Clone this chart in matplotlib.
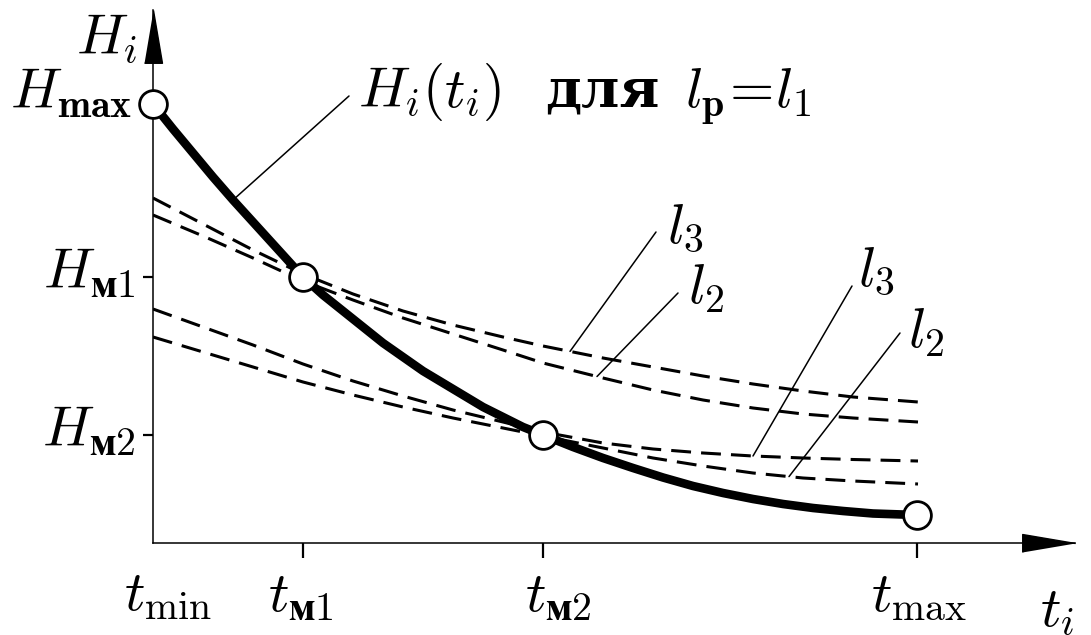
import numpy as np
import matplotlib.pyplot as plt

plt.rcParams['mathtext.fontset'] = 'cm'
plt.rcParams['font.family'] = ['Liberation Serif', 'DejaVu Serif']

# key points of the H_i(t_i) curve
t_min, t_m1, t_m2, t_max = 0.0, 1.5, 3.9, 7.64
H_max, H_m1, H_m2, H_end = 4.39, 2.66, 1.08, 0.28

# main curve  H_i(t_i) for l_p = l_1
t_main = [0, 0.2, 0.4, 0.6, 0.8, 1.0, 1.2, 1.4, 1.5,
          1.7, 1.9, 2.1, 2.3, 2.5, 2.7, 2.9, 3.1, 3.3, 3.5, 3.7, 3.9,
          4.2, 4.5, 4.8, 5.1, 5.4, 5.7, 6.0, 6.3, 6.6, 6.9, 7.2, 7.64]
H_main = [4.39, 4.14, 3.90, 3.66, 3.43, 3.21, 2.99, 2.77, 2.66,
          2.48, 2.32, 2.16, 2.00, 1.86, 1.72, 1.60, 1.48, 1.36, 1.26, 1.16, 1.08,
          0.96, 0.85, 0.75, 0.655, 0.57, 0.50, 0.44, 0.39, 0.35, 0.32, 0.295, 0.28]

# dashed curves for l_3 and l_2
t_dash = [0, 0.5, 1.0, 1.5, 2.0, 2.5, 3.0, 3.5, 3.9, 4.5, 5.0, 5.5, 6.0, 6.5, 7.0, 7.65]
l3_upper = [3.45, 3.19, 2.93, 2.69, 2.49, 2.32, 2.18, 2.06, 1.97, 1.85, 1.76, 1.67, 1.59, 1.52, 1.46, 1.41]
l2_upper = [3.28, 3.07, 2.85, 2.62, 2.43, 2.25, 2.09, 1.93, 1.80, 1.65, 1.53, 1.43, 1.35, 1.29, 1.25, 1.21]
l3_lower = [2.34, 2.16, 1.98, 1.79, 1.62, 1.47, 1.33, 1.21, 1.11, 1.00, 0.94, 0.90, 0.87, 0.85, 0.835, 0.82]
l2_lower = [2.06, 1.91, 1.76, 1.61, 1.48, 1.36, 1.25, 1.15, 1.07, 0.95, 0.85, 0.77, 0.70, 0.65, 0.62, 0.59]

fig = plt.figure(figsize=(10.91, 6.35), dpi=100)
ax = fig.add_axes([153 / 1091, 92 / 635, 922 / 1091, 533 / 635])
ax.set_xlim(0, 9.22)
ax.set_ylim(0, 5.33)
for s in ['top', 'right']:
    ax.spines[s].set_visible(False)
for s in ['left', 'bottom']:
    ax.spines[s].set_linewidth(1.1)

# axis arrows
x_head = [(0, 0), (-53, 9), (-53, -9)]
y_head = [(0, 0), (9, -53), (-9, -53)]
ax.plot(1, 0, marker=x_head, ms=76, color='k', transform=ax.transAxes, clip_on=False)
ax.plot(0, 1, marker=y_head, ms=76, color='k', transform=ax.transAxes, clip_on=False)

ax.set_xticks([t_m1, t_m2, t_max])
ax.set_yticks([H_m1, H_m2])
ax.set_xticklabels([])
ax.set_yticklabels([])
ax.tick_params(axis='x', length=11, width=1.6)
ax.tick_params(axis='y', length=7, width=1.6)

# dotted guides
dot = dict(color='k', lw=1.8, dashes=(0, 4.2), dash_capstyle='round', zorder=1)
ax.plot([t_min, t_m1], [H_m1, H_m1], **dot)
ax.plot([t_m1, t_m1], [0, H_m1], **dot)
ax.plot([t_min, t_m2], [H_m2, H_m2], **dot)
ax.plot([t_m2, t_m2], [0, H_m2], **dot)

# dashed curves
for ys in [l3_upper, l2_upper, l3_lower, l2_lower]:
    ax.plot(t_dash, ys, color='k', lw=2.2, dashes=(6.5, 3.3), zorder=2)

# main curve
ax.plot(t_main, H_main, color='k', lw=6.2, solid_capstyle='butt',
        solid_joinstyle='round', zorder=3)
ax.plot([t_min, t_m1, t_m2, t_max], [H_max, H_m1, H_m2, H_end], 'o', ms=20,
        mfc='white', mec='k', mew=2, zorder=5, clip_on=False)

# leader lines
lead = dict(arrowstyle='-', lw=1.1, color='k', shrinkA=0, shrinkB=0)
ax.annotate('', xy=(0.8, np.interp(0.8, t_main, H_main)), xytext=(1.96, 4.47), arrowprops=lead)
ax.annotate('', xy=(4.17, np.interp(4.17, t_dash, l3_upper)), xytext=(5.03, 3.11), arrowprops=lead)
ax.annotate('', xy=(4.44, np.interp(4.44, t_dash, l2_upper)), xytext=(5.25, 2.50), arrowprops=lead)
ax.annotate('', xy=(6.0, np.interp(6.0, t_dash, l3_lower)), xytext=(6.99, 2.57), arrowprops=lead)
ax.annotate('', xy=(6.36, np.interp(6.36, t_dash, l2_lower)), xytext=(7.47, 2.10), arrowprops=lead)

fs = 41
txt = dict(fontsize=fs, va='baseline', clip_on=False)
ax.text(2.05, 4.36, r'$H_i(t_i)$ ', ha='left', **txt)
ax.text(3.92, 4.36, 'для', ha='left', family='DejaVu Serif', fontweight='bold',
        fontsize=39, va='baseline', clip_on=False)
ax.text(5.32, 4.36, r'$l_{\mathbf{p}}\!=\!l_1$', ha='left', **txt)
ax.text(5.14, 3.01, r'$l_3$', ha='left', **txt)
ax.text(5.35, 2.40, r'$l_2$', ha='left', **txt)
ax.text(7.05, 2.58, r'$l_3$', ha='left', **txt)
ax.text(7.55, 1.96, r'$l_2$', ha='left', **txt)

# y labels
ax.text(-0.16, 4.90, r'$H_i$', ha='right', **txt)
ax.text(-0.21, 4.35, r'$H_{\mathbf{max}}$', ha='right', **txt)
ax.text(-0.18, 2.56, r'$H_{\mathbf{м1}}$', ha='right', **txt)
ax.text(-0.18, 0.98, r'$H_{\mathbf{м2}}$', ha='right', **txt)

# x labels
ax.text(0.15, -0.67, r'$t_{\mathrm{min}}$', ha='center', **txt)
ax.text(1.48, -0.67, r'$t_{\mathbf{м1}}$', ha='center', **txt)
ax.text(4.05, -0.67, r'$t_{\mathbf{м2}}$', ha='center', **txt)
ax.text(7.66, -0.67, r'$t_{\mathrm{max}}$', ha='center', **txt)
ax.text(8.87, -0.82, r'$t_i$', ha='left', **txt)

fig.savefig('out.png', dpi=100)
